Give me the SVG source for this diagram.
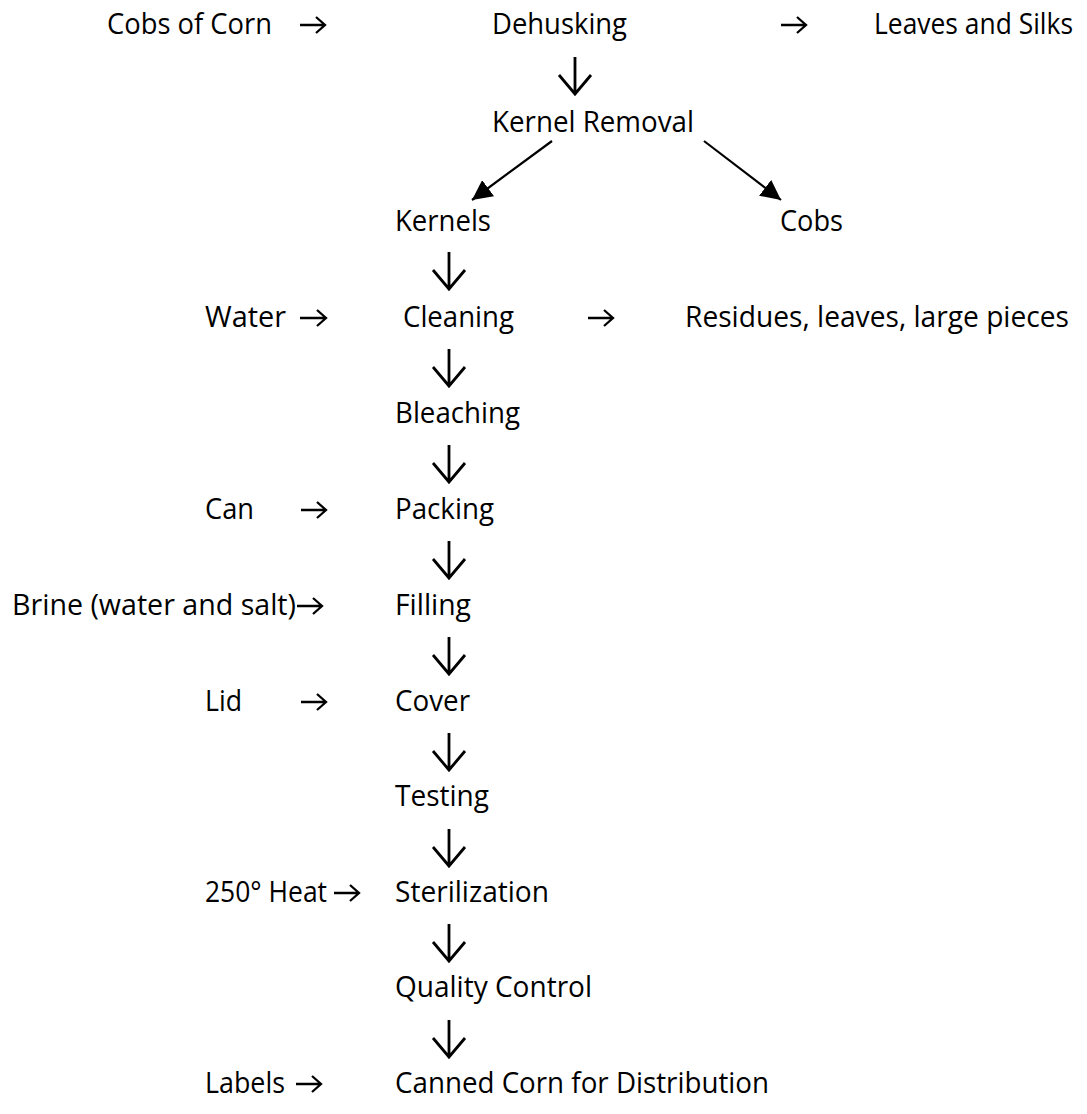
<svg xmlns="http://www.w3.org/2000/svg" width="1087" height="1114" viewBox="0 0 1087 1114">
<defs>
<style>
text{font-family:"Open Sans","Liberation Sans",sans-serif;font-size:28.5px;fill:#000}
.dn{fill:none;stroke:#000;stroke-width:2.8}
.rt{fill:none;stroke:#000;stroke-width:2.3}
.dg{fill:none;stroke:#000;stroke-width:2.2}
</style>
<marker id="tri" markerUnits="userSpaceOnUse" markerWidth="22" markerHeight="20" refX="20" refY="10" orient="auto">
<path d="M0,0 L20,10 L0,20 Z" fill="#000"/>
</marker>
</defs>
<rect width="1087" height="1114" fill="#fff"/>
<g id="n-cobs-of-corn"><text x="107" y="34" textLength="165" lengthAdjust="spacingAndGlyphs">Cobs of Corn</text></g>
<g id="n-dehusking"><text x="492" y="34" textLength="135" lengthAdjust="spacingAndGlyphs">Dehusking</text></g>
<g id="n-leaves-silks"><text x="874" y="34" textLength="199" lengthAdjust="spacingAndGlyphs">Leaves and Silks</text></g>
<g id="n-kernel-removal"><text x="492" y="132" textLength="202" lengthAdjust="spacingAndGlyphs">Kernel Removal</text></g>
<g id="n-kernels"><text x="395" y="231" textLength="96" lengthAdjust="spacingAndGlyphs">Kernels</text></g>
<g id="n-cobs"><text x="780" y="231" textLength="63" lengthAdjust="spacingAndGlyphs">Cobs</text></g>
<g id="n-water"><text x="205" y="327" textLength="81" lengthAdjust="spacingAndGlyphs">Water</text></g>
<g id="n-cleaning"><text x="403" y="327" textLength="111" lengthAdjust="spacingAndGlyphs">Cleaning</text></g>
<g id="n-residues"><text x="685" y="327" textLength="384" lengthAdjust="spacingAndGlyphs">Residues, leaves, large pieces</text></g>
<g id="n-bleaching"><text x="395" y="423" textLength="125" lengthAdjust="spacingAndGlyphs">Bleaching</text></g>
<g id="n-can"><text x="205" y="519" textLength="49" lengthAdjust="spacingAndGlyphs">Can</text></g>
<g id="n-packing"><text x="395" y="519" textLength="99" lengthAdjust="spacingAndGlyphs">Packing</text></g>
<g id="n-brine"><text x="12" y="615" textLength="284" lengthAdjust="spacingAndGlyphs">Brine (water and salt)</text></g>
<g id="n-filling"><text x="395" y="615" textLength="76" lengthAdjust="spacingAndGlyphs">Filling</text></g>
<g id="n-lid"><text x="205" y="711" textLength="37" lengthAdjust="spacingAndGlyphs">Lid</text></g>
<g id="n-cover"><text x="395" y="711" textLength="75" lengthAdjust="spacingAndGlyphs">Cover</text></g>
<g id="n-testing"><text x="395" y="806" textLength="94" lengthAdjust="spacingAndGlyphs">Testing</text></g>
<g id="n-heat"><text x="205" y="902" textLength="122" lengthAdjust="spacingAndGlyphs">250° Heat</text></g>
<g id="n-sterilization"><text x="395" y="902" textLength="154" lengthAdjust="spacingAndGlyphs">Sterilization</text></g>
<g id="n-quality"><text x="395" y="997" textLength="197" lengthAdjust="spacingAndGlyphs">Quality Control</text></g>
<g id="n-labels"><text x="205" y="1093" textLength="80" lengthAdjust="spacingAndGlyphs">Labels</text></g>
<g id="n-canned"><text x="395" y="1093" textLength="374" lengthAdjust="spacingAndGlyphs">Canned Corn for Distribution</text></g>
<g id="connectors">
<path class="rt" d="M300,25 H325 M316,17 L325,25 L316,33"/>
<path class="rt" d="M781,25 H806 M797,17 L806,25 L797,33"/>
<path class="dn" d="M575,57 V94 M559,75 L575,94 L591,75"/>
<line class="dg" x1="552" y1="141" x2="472" y2="200" marker-end="url(#tri)"/>
<line class="dg" x1="704" y1="141" x2="781" y2="200" marker-end="url(#tri)"/>
<path class="dn" d="M449,252 V289 M433,270 L449,289 L465,270"/>
<path class="rt" d="M300,318 H326 M317,310 L326,318 L317,326"/>
<path class="rt" d="M588,318 H613 M604,310 L613,318 L604,326"/>
<path class="dn" d="M449,349 V386 M433,367 L449,386 L465,367"/>
<path class="dn" d="M449,445 V482 M433,463 L449,482 L465,463"/>
<path class="rt" d="M301,510 H326 M317,502 L326,510 L317,518"/>
<path class="dn" d="M449,541 V578 M433,559 L449,578 L465,559"/>
<path class="rt" d="M297,606 H322 M313,598 L322,606 L313,614"/>
<path class="dn" d="M449,637 V674 M433,655 L449,674 L465,655"/>
<path class="rt" d="M301,702 H326 M317,694 L326,702 L317,710"/>
<path class="dn" d="M449,733 V770 M433,751 L449,770 L465,751"/>
<path class="dn" d="M449,829 V866 M433,847 L449,866 L465,847"/>
<path class="rt" d="M334,893 H359 M350,885 L359,893 L350,901"/>
<path class="dn" d="M449,924 V961 M433,942 L449,961 L465,942"/>
<path class="dn" d="M449,1020 V1057 M433,1038 L449,1057 L465,1038"/>
<path class="rt" d="M296,1084 H321 M312,1076 L321,1084 L312,1092"/>
</g>
</svg>
